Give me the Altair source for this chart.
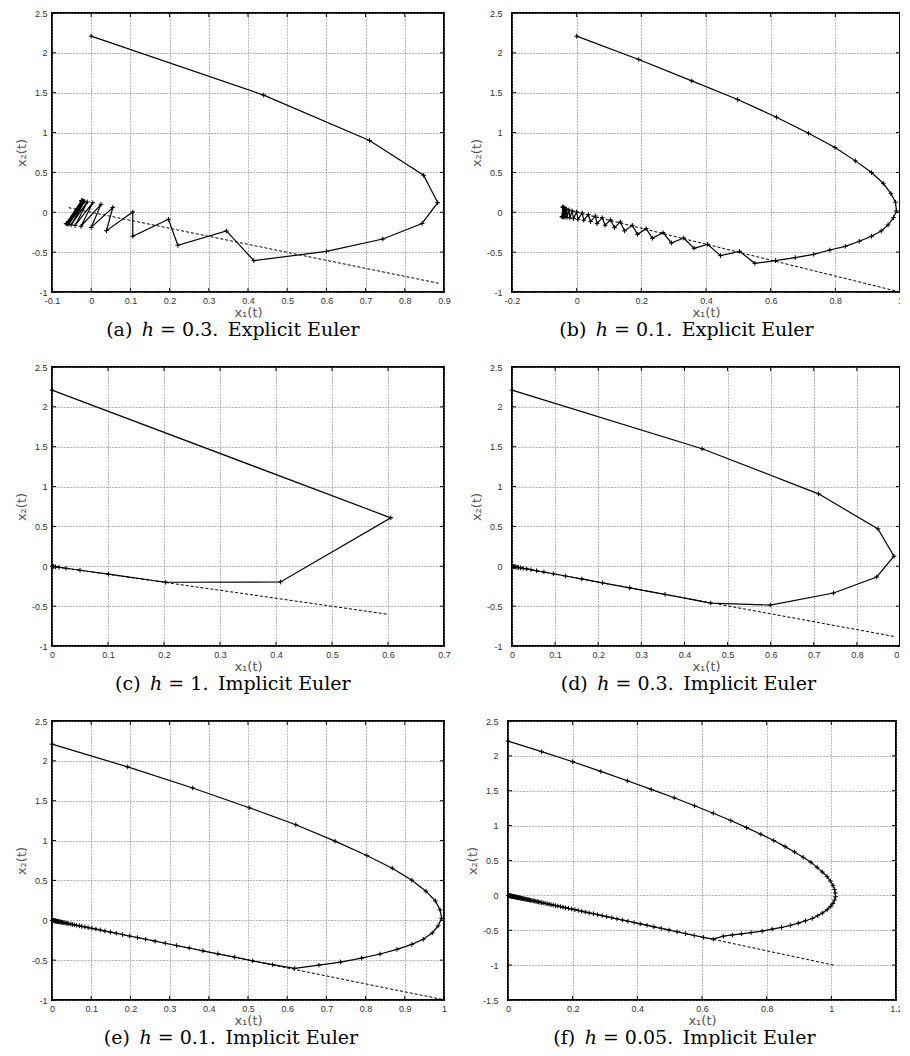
import altair as alt
import pandas as pd

# ---------------- data ----------------
pts_a = [(0, 2.21), (0.44, 1.47), (0.71, 0.90), (0.848, 0.465), (0.884, 0.12), (0.844, -0.14),
         (0.744, -0.335), (0.600, -0.49), (0.415, -0.607), (0.345, -0.234), (0.221, -0.414),
         (0.197, -0.088), (0.106, -0.30), (0.106, 0.004), (0.039, -0.23), (0.055, 0.06),
         (0.000, -0.19), (0.025, 0.10), (-0.026, -0.175), (0.004, 0.12), (-0.041, -0.165),
         (-0.010, 0.13), (-0.051, -0.157), (-0.017, 0.137), (-0.057, -0.150), (-0.020, 0.14),
         (-0.060, -0.146), (-0.022, 0.142), (-0.062, -0.144), (-0.023, 0.143), (-0.063, -0.143),
         (-0.024, 0.144), (-0.064, -0.142), (-0.025, 0.144)]
dash_a = [(-0.058, 0.058), (0.886, -0.89)]

pts_b = [(0, 2.21), (0.192, 1.917), (0.356, 1.649), (0.498, 1.415), (0.618, 1.193), (0.717, 0.992),
         (0.799, 0.812), (0.862, 0.645), (0.912, 0.498), (0.948, 0.364), (0.972, 0.234),
         (0.986, 0.126), (0.989, 0.017), (0.980, -0.067), (0.963, -0.159), (0.942, -0.234),
         (0.912, -0.301), (0.874, -0.364), (0.831, -0.427), (0.783, -0.473), (0.733, -0.527),
         (0.676, -0.569), (0.615, -0.607), (0.551, -0.640), (0.504, -0.490), (0.445, -0.544),
         (0.405, -0.402), (0.363, -0.452), (0.331, -0.322), (0.293, -0.385), (0.267, -0.255),
         (0.234, -0.326), (0.215, -0.205), (0.188, -0.276), (0.172, -0.163), (0.148, -0.234),
         (0.135, -0.121), (0.117, -0.193), (0.105, -0.096), (0.088, -0.163), (0.079, -0.067),
         (0.063, -0.142), (0.058, -0.046), (0.043, -0.117), (0.036, -0.028), (0.022, -0.100),
         (0.017, -0.008), (0.004, -0.088), (0.000, 0.005), (-0.010, -0.078), (-0.014, 0.018),
         (-0.021, -0.070), (-0.024, 0.030), (-0.030, -0.064), (-0.031, 0.040), (-0.036, -0.060),
         (-0.036, 0.048), (-0.040, -0.058), (-0.039, 0.055), (-0.042, -0.057), (-0.041, 0.060),
         (-0.044, -0.056), (-0.042, 0.064), (-0.045, -0.055), (-0.043, 0.066), (-0.045, -0.055)]
dash_b = [(-0.045, 0.045), (1.0, -1.0)]

pts_c = [(0, 2.21), (0.605, 0.608), (0.408, -0.197), (0.203, -0.200), (0.101, -0.099),
         (0.050, -0.050), (0.025, -0.025), (0.0125, -0.0125), (0.0063, -0.0063),
         (0.0031, -0.0031), (0.0016, -0.0016), (0.0008, -0.0008)]
dash_c = [(0, 0), (0.601, -0.603)]

pts_d = [(0, 2.21), (0.441, 1.475), (0.711, 0.909), (0.849, 0.469), (0.886, 0.126), (0.846, -0.134),
         (0.746, -0.335), (0.599, -0.486), (0.461, -0.461), (0.355, -0.352), (0.273, -0.270),
         (0.210, -0.207), (0.162, -0.159), (0.124, -0.122), (0.096, -0.094), (0.074, -0.072),
         (0.057, -0.056), (0.044, -0.043), (0.034, -0.033), (0.026, -0.026), (0.020, -0.020),
         (0.015, -0.015), (0.012, -0.012), (0.009, -0.009), (0.007, -0.007), (0.005, -0.005),
         (0.004, -0.004), (0.003, -0.003)]
dash_d = [(0, 0), (0.886, -0.88)]

pts_e = [(0, 2.21), (0.193, 1.924), (0.359, 1.66), (0.503, 1.412), (0.622, 1.199), (0.722, 0.993),
         (0.803, 0.813), (0.868, 0.654), (0.918, 0.503), (0.954, 0.365), (0.978, 0.243),
         (0.990, 0.130), (0.994, 0.025), (0.985, -0.071), (0.970, -0.159), (0.947, -0.239),
         (0.918, -0.302), (0.880, -0.365), (0.837, -0.423), (0.790, -0.474), (0.736, -0.524),
         (0.681, -0.562), (0.619, -0.604), (0.563, -0.557), (0.512, -0.509), (0.466, -0.463),
         (0.423, -0.421), (0.385, -0.383), (0.350, -0.348), (0.318, -0.317), (0.289, -0.288),
         (0.263, -0.262), (0.239, -0.238), (0.218, -0.217), (0.198, -0.197), (0.180, -0.179),
         (0.164, -0.163), (0.149, -0.148), (0.135, -0.135), (0.123, -0.122), (0.112, -0.111),
         (0.102, -0.101), (0.092, -0.092), (0.084, -0.084), (0.076, -0.076), (0.070, -0.069),
         (0.063, -0.063), (0.057, -0.057), (0.052, -0.052), (0.048, -0.047), (0.043, -0.043),
         (0.039, -0.039), (0.036, -0.036), (0.033, -0.032), (0.030, -0.029), (0.027, -0.027),
         (0.024, -0.024), (0.022, -0.022), (0.020, -0.020), (0.018, -0.018), (0.017, -0.016),
         (0.015, -0.015), (0.014, -0.014), (0.013, -0.012), (0.011, -0.011), (0.010, -0.010),
         (0.009, -0.009), (0.008, -0.008), (0.007, -0.007), (0.006, -0.006), (0.005, -0.005),
         (0.004, -0.004), (0.003, -0.003), (0.002, -0.002), (0.001, -0.001)]
dash_e = [(0, 0), (1.0, -0.997)]

pts_f = [(0, 2.213), (0.104, 2.06), (0.200, 1.916), (0.287, 1.777), (0.369, 1.643), (0.443, 1.519),
         (0.514, 1.399), (0.577, 1.284), (0.635, 1.178), (0.689, 1.073), (0.738, 0.972),
         (0.782, 0.877), (0.822, 0.786), (0.857, 0.699), (0.886, 0.623), (0.913, 0.546),
         (0.937, 0.474), (0.956, 0.402), (0.972, 0.335), (0.987, 0.268), (0.997, 0.206),
         (1.005, 0.144), (1.010, 0.086), (1.012, 0.034), (1.013, -0.019), (1.010, -0.067),
         (1.005, -0.115), (0.997, -0.158), (0.987, -0.206), (0.972, -0.254), (0.958, -0.292),
         (0.941, -0.331), (0.920, -0.364), (0.898, -0.398), (0.873, -0.431), (0.846, -0.460),
         (0.817, -0.484), (0.786, -0.513), (0.752, -0.533), (0.722, -0.551), (0.694, -0.567),
         (0.666, -0.585), (0.635, -0.628), (0.605, -0.603), (0.576, -0.575), (0.549, -0.548),
         (0.523, -0.522), (0.498, -0.497), (0.474, -0.473), (0.451, -0.451), (0.430, -0.429),
         (0.409, -0.409), (0.390, -0.389), (0.371, -0.371), (0.354, -0.353), (0.337, -0.336),
         (0.321, -0.320), (0.305, -0.305), (0.291, -0.290), (0.277, -0.276), (0.264, -0.263),
         (0.251, -0.251), (0.239, -0.239), (0.228, -0.227), (0.217, -0.216), (0.207, -0.206),
         (0.197, -0.196), (0.187, -0.187), (0.178, -0.178), (0.170, -0.169), (0.162, -0.161),
         (0.154, -0.154), (0.147, -0.146), (0.140, -0.139), (0.133, -0.133), (0.127, -0.126),
         (0.121, -0.120), (0.115, -0.115), (0.109, -0.109), (0.104, -0.104), (0.099, -0.099),
         (0.094, -0.094), (0.090, -0.090), (0.086, -0.085), (0.081, -0.081), (0.078, -0.077),
         (0.074, -0.074), (0.070, -0.070), (0.067, -0.067), (0.064, -0.063), (0.061, -0.060),
         (0.058, -0.058), (0.055, -0.055), (0.052, -0.052), (0.050, -0.050), (0.047, -0.047),
         (0.045, -0.045), (0.043, -0.043), (0.041, -0.041), (0.039, -0.039), (0.037, -0.037),
         (0.035, -0.035), (0.034, -0.033), (0.032, -0.032), (0.030, -0.030), (0.029, -0.029),
         (0.028, -0.027), (0.026, -0.026), (0.025, -0.025), (0.024, -0.024), (0.022, -0.022),
         (0.021, -0.021), (0.020, -0.020), (0.019, -0.019), (0.018, -0.018), (0.017, -0.017),
         (0.016, -0.016), (0.015, -0.015), (0.014, -0.014), (0.013, -0.013), (0.012, -0.012),
         (0.011, -0.011), (0.010, -0.010), (0.009, -0.009), (0.008, -0.008), (0.007, -0.007),
         (0.006, -0.006), (0.005, -0.005), (0.004, -0.004), (0.003, -0.003), (0.002, -0.002),
         (0.001, -0.001)]
dash_f = [(0, 0), (1.007, -1.0)]

x_ticks_a = [-0.1, 0, 0.1, 0.2, 0.3, 0.4, 0.5, 0.6, 0.7, 0.8, 0.9]
x_ticks_b = [-0.2, 0, 0.2, 0.4, 0.6, 0.8, 1]
x_ticks_c = [0, 0.1, 0.2, 0.3, 0.4, 0.5, 0.6, 0.7]
x_ticks_d = [0, 0.1, 0.2, 0.3, 0.4, 0.5, 0.6, 0.7, 0.8, 0.9]
x_ticks_e = [0, 0.1, 0.2, 0.3, 0.4, 0.5, 0.6, 0.7, 0.8, 0.9, 1]
x_ticks_f = [0, 0.2, 0.4, 0.6, 0.8, 1, 1.2]
y_ticks = [-1, -0.5, 0, 0.5, 1, 1.5, 2, 2.5]
y_ticks_f = [-1.5, -1, -0.5, 0, 0.5, 1, 1.5, 2, 2.5]

captions = ["(a)\u2002ℎ = 0.3.\u2002Explicit Euler",
            "(b)\u2002ℎ = 0.1.\u2002Explicit Euler",
            "(c)\u2002ℎ = 1.\u2002Implicit Euler",
            "(d)\u2002ℎ = 0.3.\u2002Implicit Euler",
            "(e)\u2002ℎ = 0.1.\u2002Implicit Euler",
            "(f)\u2002ℎ = 0.05.\u2002Implicit Euler"]

CROSS = "M-1,0H1M0,-1V1"
W_LEFT, W_RIGHT, H = 392, 388, 279
TICK = 4


def panel(points, dash, xticks, yticks, caption, lpad, width):
    df = pd.DataFrame(points, columns=["x", "y"])
    df["i"] = range(len(df))
    dd = pd.DataFrame(dash, columns=["x", "y"])
    dd["i"] = range(len(dd))
    tx = pd.DataFrame({"x": xticks})
    ty = pd.DataFrame({"y": yticks})
    xenc = alt.X("x:Q",
                 scale=alt.Scale(domain=[xticks[0], xticks[-1]], nice=False, zero=False),
                 axis=alt.Axis(values=xticks, title="x₁(t)", labelExpr="'' + datum.value",
                               labelPadding=4, titlePadding=1))
    yenc = alt.Y("y:Q",
                 scale=alt.Scale(domain=[yticks[0], yticks[-1]], nice=False, zero=False),
                 axis=alt.Axis(values=yticks, title="x₂(t)", labelExpr="'' + datum.value",
                               labelPadding=lpad, titlePadding=3))
    # inward frame ticks (gnuplot style) at every labelled value
    tick_b = alt.Chart(tx).mark_rule(color="black", strokeWidth=1).encode(
        x=xenc, y=alt.value(H), y2=alt.value(H - TICK))
    tick_t = alt.Chart(tx).mark_rule(color="black", strokeWidth=1).encode(
        x=xenc, y=alt.value(0), y2=alt.value(TICK))
    tick_l = alt.Chart(ty).mark_rule(color="black", strokeWidth=1).encode(
        y=yenc, x=alt.value(0), x2=alt.value(TICK))
    tick_r = alt.Chart(ty).mark_rule(color="black", strokeWidth=1).encode(
        y=yenc, x=alt.value(width - TICK), x2=alt.value(width))
    dsh = alt.Chart(dd).mark_line(color="black", strokeWidth=1, strokeDash=[3, 2]).encode(
        x=xenc, y=yenc, order="i:Q")
    line = alt.Chart(df).mark_line(color="black", strokeWidth=1.2).encode(
        x=xenc, y=yenc, order="i:Q")
    pts = alt.Chart(df).mark_point(shape=CROSS, size=22, filled=False, color="black",
                                   strokeWidth=1, opacity=1).encode(x=xenc, y=yenc)
    return alt.layer(tick_b, tick_t, tick_l, tick_r, dsh, line, pts).properties(
        width=width, height=H,
        title=alt.TitleParams(caption, orient="bottom", anchor="middle", frame="bounds",
                              offset=2))


pa = panel(pts_a, dash_a, x_ticks_a, y_ticks, captions[0], 5, W_LEFT)
pb = panel(pts_b, dash_b, x_ticks_b, y_ticks, captions[1], 10, W_RIGHT)
pc = panel(pts_c, dash_c, x_ticks_c, y_ticks, captions[2], 5, W_LEFT)
pd_ = panel(pts_d, dash_d, x_ticks_d, y_ticks, captions[3], 10, W_RIGHT)
pe = panel(pts_e, dash_e, x_ticks_e, y_ticks, captions[4], 5, W_LEFT)
pf = panel(pts_f, dash_f, x_ticks_f, y_ticks_f, captions[5], 10, W_RIGHT)

HSP = 17
chart = alt.vconcat(
    alt.hconcat(pa, pb, spacing=HSP),
    alt.hconcat(pc, pd_, spacing=HSP),
    alt.hconcat(pe, pf, spacing=HSP),
    spacing=21,
).properties(
    padding={"left": 6, "top": 0, "right": -8, "bottom": -2}
).configure_view(
    stroke="black", strokeWidth=2
).configure_axis(
    domain=False, ticks=False, grid=True, gridColor="#777", gridDash=[1, 2], gridWidth=1,
    labelFont="Liberation Sans", labelFontSize=9, labelColor="#333",
    labelFlush=False, labelOverlap=False,
    titleFont="DejaVu Sans", titleFontSize=13, titleColor="#555", titleFontWeight="normal"
).configure_title(
    font="DejaVu Serif", fontSize=19, fontWeight="normal", color="black"
)

chart.save("out.html", embed_options={"renderer": "svg", "actions": False})
